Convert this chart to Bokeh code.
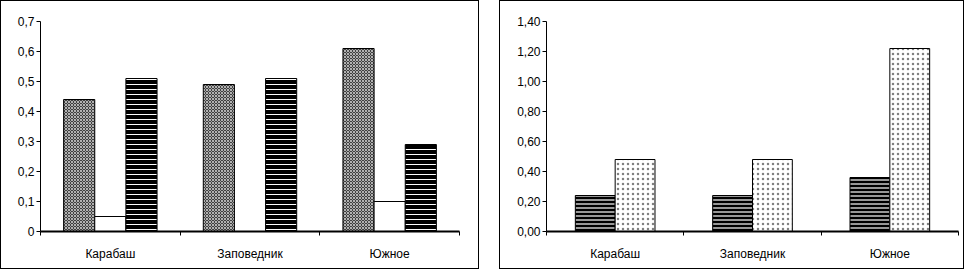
from bokeh.plotting import figure
from bokeh.models import ColumnDataSource, Range1d, FixedTicker, Spacer
from bokeh.layouts import row
from bokeh.embed import file_html
from bokeh.resources import INLINE

categories = ["Карабаш", "Заповедник", "Южное"]

left_s1 = [0.44, 0.49, 0.61]
left_s2 = [0.05, 0.0, 0.10]
left_s3 = [0.51, 0.51, 0.29]
left_ticks = [0.0, 0.1, 0.2, 0.3, 0.4, 0.5, 0.6, 0.7]
left_tick_labels = ["0", "0,1", "0,2", "0,3", "0,4", "0,5", "0,6", "0,7"]

right_s1 = [0.24, 0.24, 0.36]
right_s2 = [0.48, 0.48, 1.22]
right_ticks = [0.0, 0.2, 0.4, 0.6, 0.8, 1.0, 1.2, 1.4]
right_tick_labels = ["0,00", "0,20", "0,40", "0,60", "0,80", "1,00", "1,20", "1,40"]

FONT = "Liberation Sans"
FS = "12px"


def make_fig(width, height, ymax, ticks, tick_labels, bl, br):
    p = figure(width=width, height=height, x_range=Range1d(0, 3), y_range=Range1d(0, ymax),
               output_backend="svg", toolbar_location=None,
               min_border_left=bl, min_border_right=br, min_border_top=20, min_border_bottom=39,
               styles={"border": "1px solid black", "box-sizing": "border-box"})
    p.outline_line_color = None
    p.xgrid.visible = False
    p.ygrid.visible = False
    # y axis
    ya = p.yaxis[0]
    ya.ticker = FixedTicker(ticks=ticks, minor_ticks=[])
    ya.major_label_overrides = {t: l for t, l in zip(ticks, tick_labels)}
    ya.major_tick_in = 0
    ya.major_tick_out = 4
    ya.minor_tick_out = 0
    ya.minor_tick_in = 0
    ya.major_label_standoff = 2
    ya.major_label_text_font = FONT
    ya.major_label_text_font_size = FS
    ya.major_label_text_color = "black"
    ya.axis_line_color = "black"
    ya.major_tick_line_color = "black"
    # x axis
    xa = p.xaxis[0]
    centers = [i + 0.5 for i in range(len(categories))]
    bounds = [float(i) for i in range(len(categories) + 1)]
    xa.ticker = FixedTicker(ticks=centers, minor_ticks=bounds)
    xa.major_label_overrides = {c: n for c, n in zip(centers, categories)}
    xa.major_tick_in = 0
    xa.major_tick_out = 0
    xa.minor_tick_in = 0
    xa.minor_tick_out = 4
    xa.minor_tick_line_color = "black"
    xa.axis_line_width = 2
    xa.axis_line_color = "black"
    xa.major_label_standoff = 11
    xa.major_label_text_font = FONT
    xa.major_label_text_font_size = FS
    xa.major_label_text_color = "black"
    return p


# left chart
p1 = make_fig(479, 269, 0.7, left_ticks, left_tick_labels, 39, 21)
lw = 0.223
xs = [i + 0.5 for i in range(3)]
src1 = ColumnDataSource(dict(x=[x - lw for x in xs], top=left_s1))
src2 = ColumnDataSource(dict(x=xs, top=left_s2))
src3 = ColumnDataSource(dict(x=[x + lw for x in xs], top=left_s3))
p1.vbar(x="x", top="top", bottom=0, width=lw, source=src1, fill_color="#404040",
        line_color="black", hatch_pattern="diagonal_cross", hatch_color="white",
        hatch_scale=3, hatch_weight=0.6)
p1.vbar(x="x", top="top", bottom=0, width=lw, source=src2, fill_color="white",
        line_color="black")
p1.vbar(x="x", top="top", bottom=0, width=lw, source=src3, fill_color="black",
        line_color="black", hatch_pattern="horizontal_line", hatch_color="white",
        hatch_scale=5, hatch_weight=1)

# right chart
p2 = make_fig(465, 269, 1.4, right_ticks, right_tick_labels, 46, 7)
rw = 0.29
srcr1 = ColumnDataSource(dict(x=[x - rw / 2 for x in xs], top=right_s1))
srcr2 = ColumnDataSource(dict(x=[x + rw / 2 for x in xs], top=right_s2))
p2.vbar(x="x", top="top", bottom=0, width=rw, source=srcr1, fill_color="black",
        line_color="black", hatch_pattern="horizontal_line", hatch_color="white",
        hatch_scale=4, hatch_weight=1.2)
p2.vbar(x="x", top="top", bottom=0, width=rw, source=srcr2, fill_color="white",
        line_color="black", hatch_pattern="dot", hatch_color="black",
        hatch_scale=5, hatch_weight=0.4, hatch_alpha=0.5)

layout = row(p1, Spacer(width=20), p2)
open("out.html", "w").write(file_html(layout, INLINE))
